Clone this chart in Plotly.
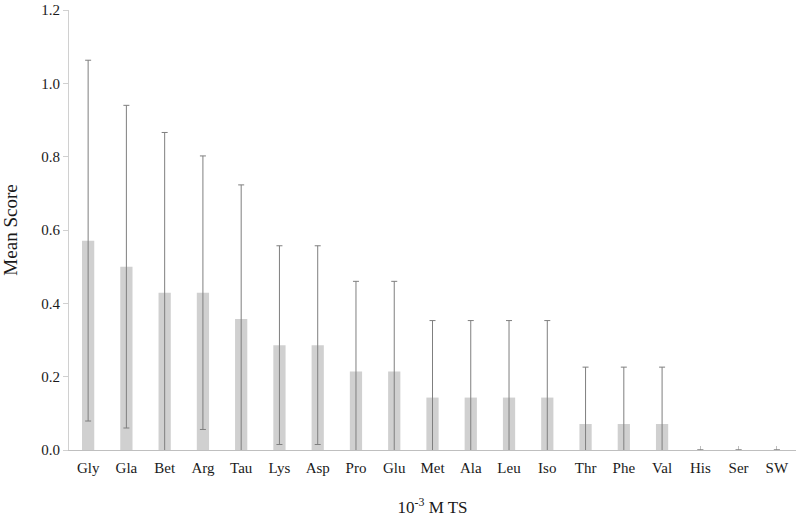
import plotly.graph_objects as go

# amino acids tested at 10^-3 M
labels = ["Gly", "Gla", "Bet", "Arg", "Tau", "Lys", "Asp", "Pro", "Glu",
          "Met", "Ala", "Leu", "Iso", "Thr", "Phe", "Val", "His", "Ser", "SW"]
mean_score = [0.571, 0.500, 0.429, 0.429, 0.357, 0.286, 0.286, 0.214, 0.214,
              0.143, 0.143, 0.143, 0.143, 0.071, 0.071, 0.071, 0.0, 0.0, 0.0]
sd = [0.492, 0.440, 0.437, 0.373, 0.366, 0.271, 0.271, 0.246, 0.246,
      0.210, 0.210, 0.210, 0.210, 0.155, 0.155, 0.155, 0.0, 0.0, 0.0]

serif = "Liberation Serif"

fig = go.Figure()
fig.add_trace(go.Bar(
    x=labels, y=mean_score,
    marker=dict(color="#d0d0d0", line=dict(width=0)),
    # no whisker drawn where the score is zero
    error_y=dict(type="data", array=[s if s > 0 else None for s in sd], visible=True,
                 color="#7f7f7f", thickness=1, width=3),
    showlegend=False,
))

fig.update_layout(
    width=799, height=519,
    margin=dict(l=69, r=3, t=10, b=69),
    paper_bgcolor="white", plot_bgcolor="white",
    bargap=0.68,
    font=dict(family=serif, size=15, color="#1a1a1a"),
)
fig.update_xaxes(
    automargin=False, layer="below traces",
    showline=True, linecolor="#bfbfbf", linewidth=1,
    ticks="inside", ticklen=4, tickcolor="#bfbfbf",
    tickfont=dict(size=15), ticklabelstandoff=4, showgrid=False,
    title=dict(text="10<sup>-3</sup> M TS", font=dict(size=17), standoff=26),
)
fig.update_yaxes(
    automargin=False,
    range=[0, 1.2], dtick=0.2, tickformat=".1f",
    showline=True, linecolor="#d0d0d0", linewidth=1,
    ticks="outside", ticklen=5, tickcolor="#d0d0d0",
    showgrid=False, zeroline=False, tickfont=dict(size=15),
    title=dict(text="Mean Score", font=dict(size=19), standoff=20),
)

# browser default body margin would shift the figure by 8px
fig.write_html("out.html", config={"displayModeBar": False},
               post_script="document.body.style.margin='0';")
